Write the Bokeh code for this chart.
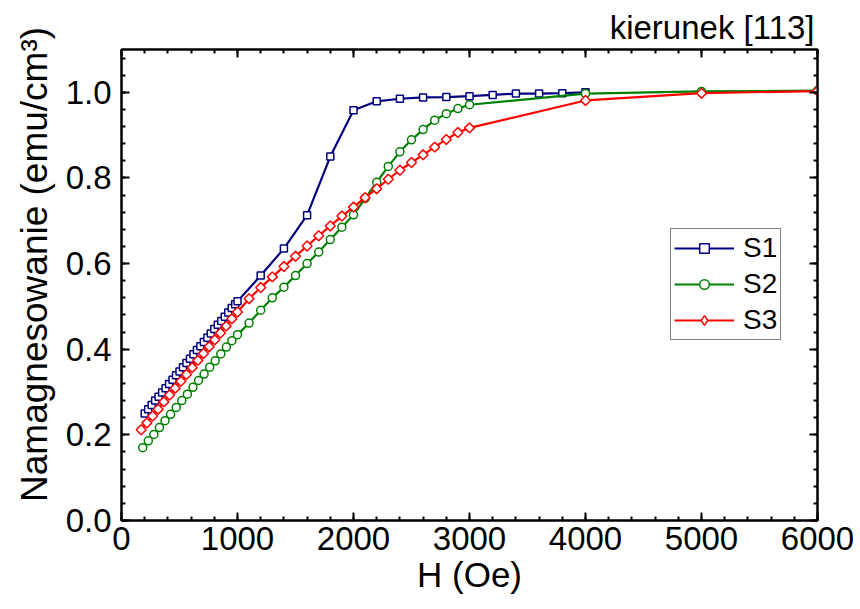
from bokeh.plotting import figure
from bokeh.models import (Range1d, LinearAxis, SingleIntervalTicker, PrintfTickFormatter,
                          CustomJSTickFormatter, Legend, LegendItem)
from bokeh.embed import file_html
from bokeh.resources import INLINE

# ---------------- data ----------------
s1_h = [200, 230, 260, 290, 320, 350, 380, 410, 440, 470, 500, 530, 560, 590, 620, 650,
        680, 710, 740, 770, 800, 830, 860, 890, 920, 950, 980, 1000,
        1200, 1400, 1600, 1800, 2000, 2200, 2400, 2600, 2800, 3000, 3200, 3400, 3600, 3800, 4000]
s1_m = [0.250, 0.260, 0.270, 0.280, 0.289, 0.299, 0.309, 0.319, 0.329, 0.339, 0.348, 0.358,
        0.368, 0.378, 0.388, 0.398, 0.407, 0.417, 0.427, 0.437, 0.447, 0.457, 0.466, 0.476,
        0.486, 0.496, 0.505, 0.512,
        0.572, 0.635, 0.713, 0.850, 0.958, 0.979, 0.985, 0.988, 0.989, 0.991, 0.994, 0.997,
        0.997, 0.998, 1.000]

s2_h = [183, 231, 279, 327, 375, 423, 472, 520, 568, 616, 664, 712, 760, 808, 856, 904, 952, 1000,
        1100, 1200, 1300, 1400, 1500, 1600, 1700, 1800, 1900, 2000, 2100, 2200, 2300, 2400,
        2500, 2600, 2700, 2800, 2900, 3000, 4000, 5000, 6000]
s2_m = [0.170, 0.186, 0.201, 0.217, 0.233, 0.248, 0.264, 0.280, 0.295, 0.311, 0.327, 0.342,
        0.358, 0.373, 0.389, 0.405, 0.420, 0.434,
        0.461, 0.491, 0.520, 0.545, 0.572, 0.600, 0.627, 0.656, 0.685, 0.714, 0.752, 0.790,
        0.827, 0.861, 0.889, 0.913, 0.935, 0.950, 0.962, 0.971, 0.997, 1.002, 1.004]

s3_h = [170, 219, 268, 316, 365, 414, 463, 512, 560, 609, 658, 707, 756, 804, 853, 902, 951, 1000,
        1100, 1200, 1300, 1400, 1500, 1600, 1700, 1800, 1900, 2000, 2100, 2200, 2300, 2400,
        2500, 2600, 2700, 2800, 2900, 3000, 4000, 5000, 6000]
s3_m = [0.212, 0.228, 0.244, 0.260, 0.277, 0.293, 0.309, 0.325, 0.341, 0.357, 0.374, 0.390,
        0.406, 0.422, 0.438, 0.454, 0.471, 0.487,
        0.518, 0.544, 0.569, 0.593, 0.617, 0.641, 0.665, 0.688, 0.711, 0.732, 0.754, 0.775,
        0.797, 0.818, 0.836, 0.854, 0.872, 0.890, 0.906, 0.917, 0.981, 0.998, 1.003]

series_names = ["S1", "S2", "S3"]
title_text = "kierunek [113]"
x_label = "H (Oe)"
y_label = "Namagnesowanie (emu/cm\u00b3)"

FONT = "Liberation Sans"
BLUE = "#000080"
GREEN = "#008000"
RED = "#ff0000"

p = figure(width=860, height=609, output_backend="svg", toolbar_location=None,
           x_range=Range1d(0, 6000), y_range=Range1d(0, 1.1),
           min_border_left=121, min_border_right=43, min_border_top=49, min_border_bottom=89)
p.background_fill_color = "white"
p.border_fill_color = "white"
p.outline_line_color = "black"
p.outline_line_width = 2
p.xgrid.visible = False
p.ygrid.visible = False

p.title.text = title_text
p.title.align = "right"
p.title.text_font = FONT
p.title.text_font_size = "33px"
p.title.text_font_style = "normal"
p.title.text_color = "black"
p.title.standoff = 8
p.title.offset = 3

xt = SingleIntervalTicker(interval=1000, num_minor_ticks=5)
yt = SingleIntervalTicker(interval=0.2, num_minor_ticks=5)


def style_axis(ax, labels=True):
    ax.axis_line_width = 2
    ax.axis_line_color = "black"
    ax.major_tick_in = 8
    ax.major_tick_out = 0
    ax.minor_tick_in = 4
    ax.minor_tick_out = 0
    ax.major_tick_line_width = 2
    ax.minor_tick_line_width = 2
    ax.major_tick_line_color = "black"
    ax.minor_tick_line_color = "black"
    ax.major_label_text_font = FONT
    ax.major_label_text_font_size = "33px" if labels else "1px"
    ax.major_label_text_color = "black"
    ax.axis_label_text_font = FONT
    ax.axis_label_text_font_size = "35px"
    ax.axis_label_text_font_style = "normal"
    ax.axis_label_text_color = "black"
    if not labels:
        ax.formatter = CustomJSTickFormatter(code="return ''")
        ax.major_label_standoff = 0


xa = p.xaxis[0]
xa.ticker = xt
style_axis(xa)
xa.axis_label = x_label
xa.major_label_standoff = 6
xa.axis_label_standoff = 2

ya = p.yaxis[0]
ya.ticker = yt
ya.formatter = PrintfTickFormatter(format="%.1f")
style_axis(ya)
ya.axis_label = "\u00a0\u00a0\u00a0\u00a0" + y_label
ya.axis_label_text_font_size = "37px"
ya.major_label_standoff = 10
ya.axis_label_standoff = 8

top_ax = LinearAxis(ticker=SingleIntervalTicker(interval=1000, num_minor_ticks=5))
style_axis(top_ax, labels=False)
p.add_layout(top_ax, "above")
right_ax = LinearAxis(ticker=SingleIntervalTicker(interval=0.2, num_minor_ticks=5))
style_axis(right_ax, labels=False)
p.add_layout(right_ax, "right")

items = []
for name, hx, my, col, marker, msize, angle, lmarker in [
        (series_names[0], s1_h, s1_m, BLUE, "square", 7, 0.0, "square"),
        (series_names[1], s2_h, s2_m, GREEN, "circle", 8, 0.0, "circle"),
        (series_names[2], s3_h, s3_m, RED, "square", 7, 0.785398, "diamond")]:
    ln = p.line(hx, my, line_color=col, line_width=2.2)
    key = None
    if lmarker != marker:
        # legend key (fully covered in the plot by the rotated squares drawn on top)
        key = p.scatter(hx, my, marker=lmarker, size=7, line_color=col,
                        line_width=1.4, fill_color="white")
    sc = p.scatter(hx, my, marker=marker, size=msize, angle=angle, line_color=col,
                   line_width=1.5, fill_color="white")
    items.append(LegendItem(label=name, renderers=[ln, key if key is not None else sc]))

legend = Legend(items=items, location=(549, 180))
legend.label_text_font = FONT
legend.label_text_font_size = "28px"
legend.label_text_color = "black"
legend.glyph_width = 60
legend.glyph_height = 24
legend.label_standoff = 9
legend.spacing = 4
legend.padding = 3
legend.margin = 0
legend.border_line_color = "black"
legend.border_line_width = 1.5
legend.background_fill_color = "white"
legend.background_fill_alpha = 1.0
p.add_layout(legend, "center")

open("out.html", "w").write(file_html(p, INLINE))
